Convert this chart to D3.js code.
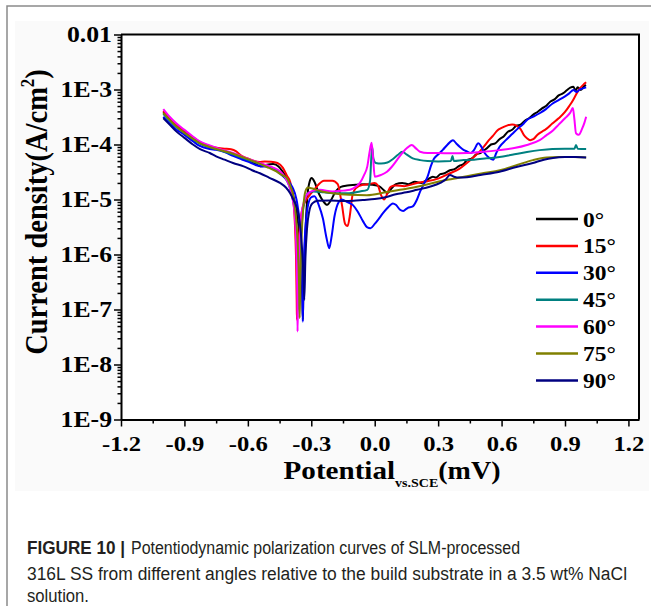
<!DOCTYPE html>
<html>
<head>
<meta charset="utf-8">
<script src="https://cdn.jsdelivr.net/npm/d3@7"></script>
<style>
  body { margin: 0; background: #fff; }
  svg { display: block; }
  .serif { font-family: 'Liberation Serif', 'Times New Roman', serif; font-weight: bold; fill: #000; }
  .caption { font-family: 'Liberation Sans', Arial, sans-serif; font-size: 18px; fill: #231f20; }
</style>
</head>
<body>
<div id="chart"></div>
<script>
// legend entries (build angle) and their line colours
const angles = ['0°', '15°', '30°', '45°', '60°', '75°', '90°']
const colors = ['#000000', '#ff0000', '#0000ff', '#008080', '#ff00ff', '#808000', '#000080']

// [potential (V vs SCE), current density (A/cm2)]
const curve0 = [
  [-1.00, 3.9e-4], [-0.97, 2.9e-4], [-0.94, 2.2e-4], [-0.90, 1.7e-4], [-0.86, 1.3e-4],
  [-0.83, 1.08e-4], [-0.78, 9.0e-5], [-0.72, 7.8e-5], [-0.67, 6.6e-5], [-0.62, 5.6e-5],
  [-0.57, 4.6e-5], [-0.54, 4.0e-5], [-0.51, 4.3e-5], [-0.48, 4.4e-5], [-0.455, 4.0e-5],
  [-0.43, 3.0e-5], [-0.41, 2.3e-5], [-0.39, 1.4e-5], [-0.37, 6e-6], [-0.355, 2e-6],
  [-0.346, 5e-7], [-0.342, 1.5e-7], [-0.340, 6.5e-8], [-0.338, 1.5e-7], [-0.334, 6e-7],
  [-0.327, 3e-6], [-0.318, 1.2e-5], [-0.308, 2.1e-5], [-0.298, 2.45e-5], [-0.285, 2.1e-5],
  [-0.265, 1.3e-5], [-0.245, 9.5e-6], [-0.225, 8e-6], [-0.205, 1.0e-5], [-0.185, 1.4e-5],
  [-0.16, 1.7e-5], [-0.13, 1.8e-5], [-0.09, 1.85e-5], [-0.05, 1.9e-5], [-0.01, 1.85e-5],
  [0.02, 1.75e-5], [0.045, 1.45e-5], [0.06, 1.3e-5], [0.08, 1.6e-5], [0.10, 1.9e-5],
  [0.13, 2.0e-5], [0.16, 1.9e-5], [0.19, 2.1e-5], [0.22, 2.0e-5], [0.25, 2.3e-5],
  [0.275, 2.6e-5], [0.29, 2.5e-5], [0.31, 2.9e-5], [0.33, 3.0e-5], [0.356, 3.4e-5],
  [0.38, 3.6e-5], [0.40, 4.1e-5], [0.42, 4.4e-5], [0.436, 5.2e-5], [0.46, 5.6e-5],
  [0.48, 6.6e-5], [0.50, 7.0e-5], [0.53, 8.5e-5], [0.55, 1.0e-4], [0.57, 1.05e-4],
  [0.59, 1.25e-4], [0.61, 1.4e-4], [0.63, 1.7e-4], [0.65, 1.85e-4], [0.67, 2.2e-4],
  [0.69, 2.3e-4], [0.71, 2.7e-4], [0.73, 3.0e-4], [0.75, 3.5e-4], [0.77, 3.9e-4],
  [0.79, 4.5e-4], [0.81, 5.0e-4], [0.83, 6.0e-4], [0.85, 6.6e-4], [0.87, 7.8e-4],
  [0.89, 8.5e-4], [0.91, 9.8e-4], [0.925, 1.08e-3], [0.94, 1.12e-3], [0.95, 9.5e-4],
  [0.96, 1.1e-3], [0.975, 9.8e-4], [0.99, 1.15e-3], [1.00, 1.2e-3]
]
const curve15 = [
  [-1.00, 4.1e-4], [-0.97, 3.0e-4], [-0.94, 2.3e-4], [-0.90, 1.75e-4], [-0.86, 1.35e-4],
  [-0.83, 1.12e-4], [-0.78, 9.3e-5], [-0.74, 8.6e-5], [-0.71, 8.4e-5], [-0.68, 8.2e-5],
  [-0.655, 7.5e-5], [-0.63, 6.2e-5], [-0.60, 5.6e-5], [-0.57, 5.0e-5], [-0.545, 4.8e-5],
  [-0.52, 4.9e-5], [-0.49, 4.85e-5], [-0.46, 4.6e-5], [-0.435, 3.8e-5], [-0.415, 2.7e-5],
  [-0.40, 2.1e-5], [-0.388, 1.2e-5], [-0.378, 4e-6], [-0.372, 8e-7], [-0.369, 1.5e-7],
  [-0.368, 6.5e-8], [-0.366, 1.5e-7], [-0.362, 8e-7], [-0.355, 3e-6], [-0.345, 6e-6],
  [-0.33, 9e-6], [-0.316, 1.1e-5], [-0.30, 1.3e-5], [-0.27, 1.8e-5], [-0.24, 2.2e-5],
  [-0.20, 2.2e-5], [-0.175, 1.9e-5], [-0.155, 8e-6], [-0.14, 3.6e-6], [-0.128, 3.3e-6],
  [-0.118, 5e-6], [-0.105, 1.2e-5], [-0.09, 1.6e-5], [-0.056, 1.85e-5], [-0.03, 1.9e-5],
  [0.00, 2.0e-5], [0.015, 1.8e-5], [0.03, 1.2e-5], [0.045, 1.0e-5], [0.06, 1.3e-5],
  [0.075, 1.7e-5], [0.10, 1.8e-5], [0.14, 1.75e-5], [0.20, 2.0e-5], [0.25, 2.15e-5],
  [0.30, 2.4e-5], [0.356, 3.0e-5], [0.40, 3.6e-5], [0.436, 4.6e-5], [0.47, 6.0e-5],
  [0.497, 7.5e-5], [0.52, 9.5e-5], [0.54, 1.2e-4], [0.56, 1.45e-4], [0.58, 1.8e-4],
  [0.60, 2.0e-4], [0.625, 2.2e-4], [0.65, 2.3e-4], [0.67, 2.2e-4], [0.69, 1.9e-4],
  [0.705, 1.5e-4], [0.72, 1.3e-4], [0.735, 1.2e-4], [0.75, 1.25e-4], [0.77, 1.5e-4],
  [0.79, 1.7e-4], [0.81, 1.9e-4], [0.84, 2.4e-4], [0.87, 3.0e-4], [0.90, 3.9e-4],
  [0.92, 5.0e-4], [0.94, 6.6e-4], [0.955, 8.5e-4], [0.97, 1.05e-3], [0.985, 1.2e-3],
  [1.00, 1.35e-3]
]
const curve30 = [
  [-1.00, 3.2e-4], [-0.97, 2.4e-4], [-0.94, 1.9e-4], [-0.90, 1.5e-4], [-0.86, 1.15e-4],
  [-0.83, 9.5e-5], [-0.78, 8.3e-5], [-0.75, 8.0e-5], [-0.71, 7.3e-5], [-0.67, 6.2e-5],
  [-0.63, 5.4e-5], [-0.60, 4.9e-5], [-0.56, 4.2e-5], [-0.53, 4.0e-5], [-0.50, 3.9e-5],
  [-0.47, 3.4e-5], [-0.44, 2.8e-5], [-0.417, 2.3e-5], [-0.39, 1.7e-5], [-0.37, 1.0e-5],
  [-0.356, 4e-6], [-0.347, 1e-6], [-0.342, 2e-7], [-0.340, 6e-8], [-0.338, 2e-7],
  [-0.333, 1.2e-6], [-0.325, 4e-6], [-0.315, 8e-6], [-0.30, 1.1e-5], [-0.285, 1.15e-5],
  [-0.265, 8e-6], [-0.245, 4.5e-6], [-0.228, 2e-6], [-0.215, 1.3e-6], [-0.205, 2e-6],
  [-0.19, 5e-6], [-0.17, 9e-6], [-0.156, 1.0e-5], [-0.13, 9e-6], [-0.103, 7.9e-6],
  [-0.08, 6e-6], [-0.055, 4e-6], [-0.035, 3.1e-6], [-0.02, 3.0e-6], [0.00, 3.6e-6],
  [0.02, 4.5e-6], [0.04, 5.7e-6], [0.06, 7e-6], [0.086, 8.5e-6], [0.10, 8e-6],
  [0.12, 6.5e-6], [0.135, 6.2e-6], [0.155, 7e-6], [0.18, 7.5e-6], [0.20, 1.0e-5],
  [0.215, 1.4e-5], [0.235, 2.0e-5], [0.25, 2.6e-5], [0.265, 4.0e-5], [0.28, 5.5e-5],
  [0.30, 6.6e-5], [0.322, 8.0e-5], [0.345, 1.0e-4], [0.37, 1.2e-4], [0.385, 1.05e-4],
  [0.403, 9.0e-5], [0.42, 8.0e-5], [0.436, 7.5e-5], [0.455, 7.0e-5], [0.47, 8.0e-5],
  [0.49, 1.05e-4], [0.505, 9.0e-5], [0.52, 7.0e-5], [0.54, 5.8e-5], [0.56, 5.3e-5],
  [0.575, 7e-5], [0.59, 9e-5], [0.62, 1.2e-4], [0.65, 1.55e-4], [0.68, 2.0e-4],
  [0.70, 2.3e-4], [0.72, 2.8e-4], [0.75, 3.2e-4], [0.78, 3.7e-4], [0.81, 4.4e-4],
  [0.84, 5.5e-4], [0.87, 6.4e-4], [0.90, 7.5e-4], [0.92, 8.5e-4], [0.94, 9.8e-4],
  [0.955, 9.0e-4], [0.97, 1.0e-3], [0.985, 1.05e-3], [1.00, 1.1e-3]
]
const curve45 = [
  [-1.00, 3.6e-4], [-0.97, 2.7e-4], [-0.94, 2.1e-4], [-0.90, 1.62e-4], [-0.86, 1.25e-4],
  [-0.83, 1.05e-4], [-0.78, 8.9e-5], [-0.72, 7.6e-5], [-0.67, 6.6e-5], [-0.62, 5.6e-5],
  [-0.57, 4.8e-5], [-0.52, 4.2e-5], [-0.48, 3.7e-5], [-0.45, 3.2e-5], [-0.425, 2.5e-5],
  [-0.405, 1.8e-5], [-0.39, 1.1e-5], [-0.375, 5e-6], [-0.366, 1.5e-6], [-0.361, 3e-7],
  [-0.358, 1e-7], [-0.355, 3e-7], [-0.35, 1.5e-6], [-0.342, 5e-6], [-0.33, 1.0e-5],
  [-0.315, 1.3e-5], [-0.29, 1.4e-5], [-0.24, 1.35e-5], [-0.18, 1.3e-5], [-0.12, 1.3e-5],
  [-0.07, 1.4e-5], [-0.035, 1.5e-5], [-0.022, 2.2e-5], [-0.016, 6e-5], [-0.012, 9e-5],
  [-0.006, 5.5e-5], [0.005, 4.6e-5], [0.03, 4.5e-5], [0.06, 4.7e-5], [0.085, 5.4e-5],
  [0.11, 6.5e-5], [0.13, 7.4e-5], [0.15, 6.6e-5], [0.18, 5.6e-5], [0.215, 5.2e-5],
  [0.25, 5.0e-5], [0.30, 4.9e-5], [0.36, 5.0e-5], [0.368, 6.2e-5], [0.374, 5.0e-5],
  [0.42, 5.2e-5], [0.47, 5.3e-5], [0.53, 5.6e-5], [0.59, 5.9e-5], [0.65, 6.5e-5],
  [0.72, 7.3e-5], [0.78, 7.9e-5], [0.84, 8.3e-5], [0.90, 8.4e-5], [0.945, 8.4e-5],
  [0.952, 9.8e-5], [0.96, 8.4e-5], [1.00, 8.3e-5]
]
const curve60 = [
  [-1.00, 4.4e-4], [-0.97, 3.2e-4], [-0.94, 2.45e-4], [-0.90, 1.85e-4], [-0.86, 1.4e-4],
  [-0.83, 1.15e-4], [-0.78, 9.6e-5], [-0.72, 8.0e-5], [-0.67, 7.0e-5], [-0.62, 5.9e-5],
  [-0.57, 5.0e-5], [-0.52, 4.3e-5], [-0.48, 3.8e-5], [-0.45, 3.3e-5], [-0.425, 2.6e-5],
  [-0.405, 1.8e-5], [-0.39, 1.1e-5], [-0.378, 5e-6], [-0.370, 1e-6], [-0.366, 1.5e-7],
  [-0.365, 4e-8], [-0.363, 1.5e-7], [-0.358, 1e-6], [-0.35, 4e-6], [-0.335, 9e-6],
  [-0.315, 1.3e-5], [-0.29, 1.45e-5], [-0.259, 1.5e-5], [-0.20, 1.4e-5], [-0.15, 1.45e-5],
  [-0.117, 1.5e-5], [-0.09, 1.7e-5], [-0.07, 2.0e-5], [-0.05, 2.8e-5], [-0.035, 4.0e-5],
  [-0.025, 7.0e-5], [-0.015, 1.08e-4], [-0.008, 6e-5], [0.00, 2.6e-5], [0.03, 2.8e-5],
  [0.058, 3.2e-5], [0.08, 3.9e-5], [0.105, 5.2e-5], [0.13, 7.0e-5], [0.155, 8.8e-5],
  [0.175, 9.8e-5], [0.195, 8.5e-5], [0.214, 7.4e-5], [0.25, 7.0e-5], [0.30, 7.0e-5],
  [0.36, 6.9e-5], [0.436, 7.0e-5], [0.50, 7.3e-5], [0.59, 7.9e-5], [0.66, 8.6e-5],
  [0.72, 9.8e-5], [0.78, 1.2e-4], [0.81, 1.45e-4], [0.843, 1.8e-4], [0.87, 2.3e-4],
  [0.90, 3.0e-4], [0.925, 3.8e-4], [0.937, 4.6e-4], [0.944, 3.0e-4], [0.952, 1.6e-4],
  [0.965, 1.5e-4], [0.98, 1.9e-4], [0.992, 2.5e-4], [1.00, 3.2e-4]
]
const curve75 = [
  [-1.00, 3.75e-4], [-0.97, 2.8e-4], [-0.94, 2.15e-4], [-0.90, 1.62e-4], [-0.86, 1.27e-4],
  [-0.83, 1.07e-4], [-0.78, 9.0e-5], [-0.72, 7.7e-5], [-0.67, 6.8e-5], [-0.62, 5.8e-5],
  [-0.57, 4.9e-5], [-0.51, 3.9e-5], [-0.47, 3.3e-5], [-0.44, 2.8e-5], [-0.417, 2.5e-5],
  [-0.40, 1.8e-5], [-0.386, 1.2e-5], [-0.373, 5e-6], [-0.364, 1.5e-6], [-0.358, 3e-7],
  [-0.355, 7e-8], [-0.352, 3e-7], [-0.346, 2e-6], [-0.338, 7e-6], [-0.328, 1.4e-5],
  [-0.316, 1.65e-5], [-0.30, 1.6e-5], [-0.25, 1.4e-5], [-0.20, 1.3e-5], [-0.12, 1.22e-5],
  [-0.037, 1.2e-5], [0.05, 1.35e-5], [0.119, 1.5e-5], [0.20, 1.7e-5], [0.275, 2.0e-5],
  [0.35, 2.3e-5], [0.436, 2.65e-5], [0.51, 3.0e-5], [0.592, 3.4e-5], [0.67, 4.2e-5],
  [0.748, 5.2e-5], [0.814, 5.8e-5], [0.87, 5.9e-5], [0.94, 5.9e-5], [1.00, 5.8e-5]
]
const curve90 = [
  [-1.00, 3.0e-4], [-0.97, 2.3e-4], [-0.94, 1.75e-4], [-0.90, 1.32e-4], [-0.86, 1.0e-4],
  [-0.826, 8.2e-5], [-0.78, 7.0e-5], [-0.75, 6.1e-5], [-0.71, 5.3e-5], [-0.67, 4.6e-5],
  [-0.62, 4.0e-5], [-0.58, 3.4e-5], [-0.543, 3.0e-5], [-0.50, 2.5e-5], [-0.448, 2.0e-5],
  [-0.42, 1.65e-5], [-0.40, 1.3e-5], [-0.385, 1.0e-5], [-0.37, 7.4e-6], [-0.355, 4e-6],
  [-0.345, 1.5e-6], [-0.338, 5e-7], [-0.333, 1.5e-7], [-0.328, 8e-7], [-0.32, 3e-6],
  [-0.31, 6e-6], [-0.295, 8.5e-6], [-0.27, 9.5e-6], [-0.21, 9.6e-6], [-0.15, 9.4e-6],
  [-0.10, 9.5e-6], [-0.056, 9.8e-6], [0.00, 1.02e-5], [0.05, 1.1e-5], [0.10, 1.25e-5],
  [0.15, 1.35e-5], [0.20, 1.5e-5], [0.26, 1.7e-5], [0.31, 2.0e-5], [0.335, 2.3e-5],
  [0.356, 2.8e-5], [0.375, 2.6e-5], [0.40, 2.5e-5], [0.436, 2.55e-5], [0.50, 2.8e-5],
  [0.59, 3.2e-5], [0.67, 3.9e-5], [0.748, 4.6e-5], [0.80, 5.3e-5], [0.843, 5.7e-5],
  [0.90, 5.9e-5], [0.95, 5.9e-5], [1.00, 5.8e-5]
]
const curves = [curve0, curve15, curve30, curve45, curve60, curve75, curve90]

const xTicks = [-1.2, -0.9, -0.6, -0.3, 0, 0.3, 0.6, 0.9, 1.2]
const yTicks = [1e-9, 1e-8, 1e-7, 1e-6, 1e-5, 1e-4, 1e-3, 1e-2]
const yTickLabels = ['1E-9', '1E-8', '1E-7', '1E-6', '1E-5', '1E-4', '1E-3', '0.01']

const width = 651
const height = 606
const plot = {left: 121, right: 639, top: 34.5, bottom: 419.5}
const sx = 1.12 // the source figure is stretched sideways a little

const svg = d3.select('#chart')
  .append('svg')
    .attr('width', width)
    .attr('height', height)

// page card border and the light figure background
svg.append('rect')
  .attr('x', 15).attr('y', 21).attr('width', 634).attr('height', 470)
  .attr('fill', '#fafafa')
svg.append('path')
  .attr('d', `M7,${height} V6 H${width}`)
  .attr('fill', 'none')
  .attr('stroke', '#8a8a8a')
  .attr('stroke-width', 1.5)
svg.append('rect')
  .attr('x', plot.left).attr('y', plot.top)
  .attr('width', plot.right - plot.left).attr('height', plot.bottom - plot.top)
  .attr('fill', '#fff')

const x = d3.scaleLinear()
  .domain([-1.2, 1.25])
  .range([plot.left, plot.right])
const y = d3.scaleLog()
  .domain([1e-9, 1e-2])
  .range([plot.bottom, plot.top])

const line = d3.line()
  .x(d => x(d[0]))
  .y(d => y(d[1]))
  .curve(d3.curveMonotoneX)

svg.append('g')
  .selectAll('path')
  .data(curves)
  .enter()
    .append('path')
      .attr('d', line)
      .attr('fill', 'none')
      .attr('stroke', (d, i) => colors[i])
      .attr('stroke-width', 2)
      .attr('stroke-linejoin', 'round')

// minor ticks
const xMinor = d3.pairs(xTicks, (a, b) => (a + b) / 2)
svg.append('g')
  .attr('transform', `translate(0,${plot.bottom})`)
  .call(d3.axisBottom(x).tickValues(xMinor).tickSize(4).tickFormat(''))
  .call(g => g.select('.domain').remove())
const yMinor = y.ticks().filter(v => Math.abs(Math.log10(v) - Math.round(Math.log10(v))) > 1e-6)
svg.append('g')
  .attr('transform', `translate(${plot.left},0)`)
  .call(d3.axisLeft(y).tickValues(yMinor).tickSize(3.5).tickFormat(''))
  .call(g => g.select('.domain').remove())

// major axes
const xAxis = svg.append('g')
  .attr('transform', `translate(0,${plot.bottom})`)
  .call(d3.axisBottom(x).tickValues(xTicks).tickSize(7).tickSizeOuter(0).tickFormat(d => d.toFixed(1)))
xAxis.selectAll('text')
  .attr('class', 'serif')
  .attr('font-size', 22)
  .attr('y', 15.5)
  .attr('transform', `scale(${sx},1)`)

const yAxis = svg.append('g')
  .attr('transform', `translate(${plot.left},0)`)
  .call(d3.axisLeft(y).tickValues(yTicks).tickSize(7).tickSizeOuter(0).tickFormat((d, i) => yTickLabels[i]))
yAxis.selectAll('text')
  .attr('class', 'serif')
  .attr('font-size', 23)
  .attr('x', -9 / sx)
  .attr('transform', `scale(${sx},1)`)

svg.selectAll('.tick line').attr('stroke-width', 1.5)
svg.selectAll('.domain').attr('stroke-width', 2)

// frame top and right
svg.append('path')
  .attr('d', `M${plot.left},${plot.top} H${plot.right} V${plot.bottom}`)
  .attr('fill', 'none')
  .attr('stroke', '#000')
  .attr('stroke-width', 2)

// axis titles
const xTitle = svg.append('text')
  .attr('class', 'serif')
  .attr('text-anchor', 'middle')
  .attr('transform', `translate(392,479) scale(${sx},1)`)
xTitle.append('tspan').attr('font-size', 26).text('Potential')
xTitle.append('tspan').attr('font-size', 12.5).attr('dy', 8).text('vs.SCE')
xTitle.append('tspan').attr('font-size', 25).attr('dy', -8).text('(mV)')

const yTitle = svg.append('text')
  .attr('class', 'serif')
  .attr('text-anchor', 'middle')
  .attr('transform', `translate(47,212) rotate(-90) scale(1,${sx})`)
yTitle.append('tspan').attr('font-size', 28.5).text('Current density(A/cm')
yTitle.append('tspan').attr('font-size', 17).attr('dy', -12).text('2')
yTitle.append('tspan').attr('font-size', 28.5).attr('dy', 12).text(')')

// legend
const legend = svg.append('g')
  .selectAll('g')
  .data(angles)
  .enter()
    .append('g')
      .attr('transform', (d, i) => `translate(536,${219 + i * 26.9})`)
legend.append('line')
  .attr('x1', 0).attr('x2', 42)
  .attr('stroke', (d, i) => colors[i])
  .attr('stroke-width', 2.5)
legend.append('text')
  .attr('class', 'serif')
  .attr('font-size', 21)
  .attr('transform', `translate(47,7.5) scale(${sx},1)`)
  .text(d => d)

// caption
svg.append('text').attr('class', 'caption')
  .attr('x', 27).attr('y', 554)
  .attr('font-weight', 'bold')
  .attr('textLength', 98).attr('lengthAdjust', 'spacingAndGlyphs')
  .text('FIGURE 10 |')
svg.append('text').attr('class', 'caption')
  .attr('x', 131).attr('y', 554)
  .attr('textLength', 389).attr('lengthAdjust', 'spacingAndGlyphs')
  .text('Potentiodynamic polarization curves of SLM-processed')
svg.append('text').attr('class', 'caption')
  .attr('x', 27).attr('y', 580)
  .attr('textLength', 600).attr('lengthAdjust', 'spacingAndGlyphs')
  .text('316L SS from different angles relative to the build substrate in a 3.5 wt% NaCl')
svg.append('text').attr('class', 'caption')
  .attr('x', 27).attr('y', 602)
  .attr('textLength', 62).attr('lengthAdjust', 'spacingAndGlyphs')
  .text('solution.')
</script>
</body>
</html>
